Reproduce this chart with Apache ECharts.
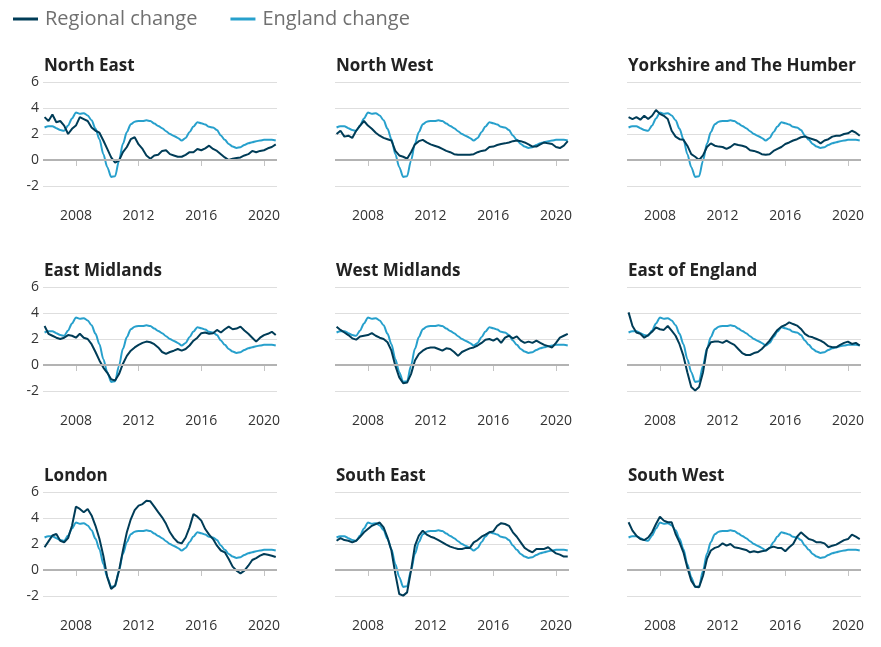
<!DOCTYPE html>
<html><head><meta charset="utf-8">
<script src="https://cdn.jsdelivr.net/npm/echarts@6/dist/echarts.min.js"></script>
<style>html,body{margin:0;padding:0;background:#fff}#c{width:881px;height:647px}</style>
</head><body><div id="c"></div>
<script>
// Quarterly observations, first quarter of 2006 onwards (step of a quarter)
const startYear = 2006;
const stepYears = 0.25;
const xTickYears = [2008, 2012, 2016, 2020];
const yTicks = [-2, 0, 2, 4, 6];
const regionNames = ['North East', 'North West', 'Yorkshire and The Humber',
  'East Midlands', 'West Midlands', 'East of England',
  'London', 'South East', 'South West'];

const england = [2.5,2.6,2.6,2.45, 2.3,2.25,2.65,3.2, 3.65,3.55,3.6,3.43, 3.05,2.4,1.6,0.45,
  -0.55,-1.3,-1.25,-0.05, 1.25,2.15,2.75,2.95, 3.0,3.0,3.05,3.0, 2.8,2.62,2.45,2.22,
  2.0,1.85,1.7,1.5, 1.7,2.15,2.58,2.9, 2.83,2.73,2.55,2.5, 2.3,1.88,1.55,1.24,
  1.03,0.93,0.98,1.16, 1.29,1.37,1.44,1.5, 1.55,1.55,1.55,1.5];

const northEast = [3.3,3.0,3.5,2.9, 3.0,2.65,2.0,2.4, 2.65,3.3,3.15,3.0, 2.5,2.25,2.1,1.5,
  0.85,0.2,-0.2,-0.05, 0.6,1.0,1.6,1.75, 1.2,0.85,0.35,0.1, 0.35,0.4,0.7,0.75,
  0.45,0.35,0.25,0.25, 0.4,0.6,0.6,0.85, 0.75,0.9,1.1,0.85, 0.7,0.45,0.2,0.0,
  0.1,0.15,0.2,0.35, 0.45,0.7,0.6,0.7, 0.75,0.9,1.0,1.2];
const northWest = [2.0,2.25,1.8,1.87, 1.7,2.25,2.65,3.0, 2.65,2.4,2.1,1.87, 1.7,1.6,1.5,0.7,
  0.35,0.25,0.1,0.6, 1.2,1.45,1.55,1.35, 1.2,1.1,1.0,0.85, 0.7,0.6,0.45,0.4,
  0.4,0.4,0.4,0.45, 0.6,0.7,0.75,1.0, 1.03,1.15,1.23,1.28, 1.35,1.45,1.5,1.45,
  1.35,1.2,1.03,1.03, 1.2,1.35,1.28,1.23, 1.0,0.92,1.1,1.45];
const yorkshire = [3.3,3.15,3.3,3.1, 3.4,3.15,3.4,3.85, 3.55,3.4,3.15,2.25, 1.8,1.6,1.55,1.1,
  0.45,0.25,0.0,0.35, 1.0,1.28,1.1,1.03, 1.0,0.85,1.0,1.23, 1.15,1.1,1.0,0.75,
  0.7,0.6,0.45,0.4, 0.45,0.7,0.85,1.0, 1.23,1.35,1.5,1.6, 1.75,1.8,1.7,1.6,
  1.5,1.28,1.5,1.6, 1.8,1.87,1.87,2.0, 2.05,2.25,2.1,1.87];
const eastMidlands = [3.0,2.4,2.25,2.1, 2.0,2.1,2.3,2.25, 2.1,2.4,2.1,2.0, 1.6,1.0,0.35,-0.2,
  -0.6,-1.1,-1.2,-0.7, 0.1,0.7,1.1,1.35, 1.55,1.7,1.8,1.75, 1.6,1.35,1.0,0.85,
  1.0,1.1,1.23,1.1, 1.23,1.5,1.87,2.1, 2.45,2.5,2.4,2.45, 2.7,2.5,2.75,2.95,
  2.75,2.8,2.95,2.65, 2.4,2.1,1.8,2.1, 2.3,2.4,2.55,2.3];
const westMidlands = [2.95,2.7,2.5,2.3, 2.05,1.95,2.2,2.25, 2.3,2.45,2.25,2.1, 2.0,1.75,1.1,-0.05,
  -0.95,-1.4,-1.35,-0.7, 0.35,0.85,1.1,1.28, 1.35,1.35,1.23,1.1, 1.28,1.23,1.0,0.7,
  1.0,1.15,1.28,1.35, 1.5,1.7,1.95,2.0, 1.87,2.05,1.7,2.1, 2.25,2.05,2.2,1.87,
  1.7,1.8,1.7,1.87, 1.7,1.55,1.45,1.35, 1.7,2.1,2.25,2.4];
const eastOfEngland = [4.05,3.0,2.5,2.4, 2.1,2.3,2.55,2.9, 2.75,2.7,3.0,2.65, 2.25,1.6,0.7,-0.55,
  -1.7,-1.97,-1.7,-0.55, 1.23,1.75,1.8,1.8, 1.7,1.87,1.7,1.55, 1.23,0.92,0.77,0.77,
  0.92,1.0,1.23,1.55, 1.87,2.3,2.7,2.95, 3.08,3.28,3.15,3.03, 2.77,2.4,2.2,2.13,
  2.0,1.87,1.7,1.45, 1.36,1.36,1.55,1.7, 1.8,1.62,1.7,1.5];
const london = [1.75,2.2,2.65,2.77, 2.25,2.13,2.45,3.4, 4.87,4.7,4.45,4.7, 4.2,3.4,2.4,1.1,
  -0.55,-1.46,-1.2,-0.05, 1.5,2.9,3.9,4.6, 4.95,5.07,5.33,5.28, 4.87,4.45,4.05,3.55,
  2.9,2.45,2.13,2.05, 2.5,3.28,4.3,4.1, 3.8,3.15,2.72,2.38, 1.87,1.5,1.36,0.85,
  0.26,-0.05,-0.26,-0.05, 0.33,0.77,0.92,1.1, 1.23,1.18,1.1,1.0];
const southEast = [2.25,2.45,2.3,2.25, 2.13,2.25,2.55,2.9, 3.15,3.4,3.53,3.65, 3.28,2.5,1.5,-0.3,
  -1.85,-1.97,-1.72,-0.05, 1.87,2.65,3.03,2.72, 2.56,2.46,2.3,2.13, 1.95,1.8,1.7,1.62,
  1.62,1.7,1.7,2.13, 2.3,2.56,2.72,2.9, 2.97,3.4,3.6,3.54, 3.4,2.9,2.56,2.13,
  1.7,1.5,1.36,1.62, 1.62,1.62,1.75,1.5, 1.28,1.18,1.03,1.03];
const southWest = [3.67,3.03,2.64,2.38, 2.3,2.5,2.9,3.54, 4.1,3.8,3.67,3.67, 2.77,2.13,1.36,0.2,
  -0.82,-1.28,-1.33,-0.44, 0.85,1.5,1.7,1.8, 2.05,1.87,2.0,1.75, 1.7,1.62,1.54,1.36,
  1.44,1.36,1.44,1.49, 1.7,1.8,1.7,1.7, 1.44,1.75,2.0,2.56, 2.9,2.64,2.38,2.3,
  2.13,2.13,2.05,1.75, 1.87,1.95,2.13,2.3, 2.38,2.72,2.56,2.38];

const regionalSeries = [northEast, northWest, yorkshire, eastMidlands, westMidlands,
  eastOfEngland, london, southEast, southWest];

const DARK = '#003c57', LIGHT = '#27a0cc';
const FONT = "'Open Sans', sans-serif";
const colLeft = [43, 335, 627];
const rowTop = [82, 287, 492];
const plotW = 234, plotH = 104;

function toPairs(vals) { return vals.map((v, i) => [startYear + i * stepYears, v]); }

const grid = [], xAxis = [], yAxis = [], series = [], title = [];
regionNames.forEach((name, k) => {
  const r = Math.floor(k / 3), c = k % 3;
  grid.push({ left: colLeft[c], top: rowTop[r], width: plotW, height: plotH, containLabel: false });
  title.push({ text: name, left: colLeft[c] + 1, top: rowTop[r] - 24, padding: 0,
    textStyle: { fontFamily: FONT, fontSize: 17, fontWeight: 'bold', color: '#222' } });
  xAxis.push({ type: 'value', gridIndex: k, min: 2005.9, max: 2020.83, offset: 13,
    axisLine: { show: false },
    axisTick: { show: true, customValues: xTickYears, length: 6, lineStyle: { color: '#c4c4c4', width: 1 } },
    axisLabel: { customValues: xTickYears, formatter: v => String(v), margin: 10,
      fontFamily: FONT, fontSize: 14, color: '#333' },
    splitLine: { show: false } });
  yAxis.push({ type: 'value', gridIndex: k, min: yTicks[0], max: yTicks[yTicks.length - 1], interval: 2,
    axisLine: { show: false }, axisTick: { show: false },
    axisLabel: { show: c === 0, margin: 4, fontFamily: FONT, fontSize: 14, color: '#333' },
    splitLine: { show: true, lineStyle: { color: '#dedede', width: 1 } } });
  series.push({ name: 'England change', type: 'line', xAxisIndex: k, yAxisIndex: k,
    data: toPairs(england), showSymbol: false, smooth: 0.3, smoothMonotone: 'x', z: 2,
    lineStyle: { color: LIGHT, width: 2 }, itemStyle: { color: LIGHT },
    markLine: { silent: true, symbol: ['none', 'none'], label: { show: false },
      lineStyle: { color: '#b3b3b3', width: 2, type: 'solid' }, data: [{ yAxis: 0 }] } });
  series.push({ name: 'Regional change', type: 'line', xAxisIndex: k, yAxisIndex: k,
    data: toPairs(regionalSeries[k]), showSymbol: false, z: 3,
    lineStyle: { color: DARK, width: 2 }, itemStyle: { color: DARK } });
});

const chart = echarts.init(document.getElementById('c'));
chart.setOption({
  animation: false,
  backgroundColor: '#fff',
  title: title,
  legend: { data: ['Regional change', 'England change'], left: 13, top: 7, padding: 0, icon: 'rect',
    itemWidth: 25, itemHeight: 3, itemGap: 33,
    textStyle: { fontFamily: FONT, fontSize: 20, color: '#707070', lineHeight: 24, padding: [0, 0, 0, 2] } },
  grid: grid, xAxis: xAxis, yAxis: yAxis, series: series
});
</script>
</body></html>
